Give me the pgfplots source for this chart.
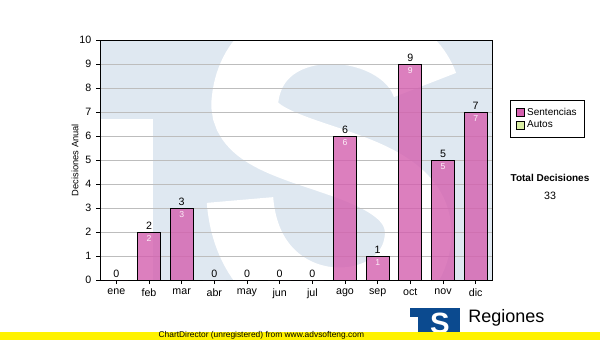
\documentclass[border=0pt]{standalone}
\usepackage{fontspec}
\setmainfont{Liberation Sans}
\usepackage{pgfplots}
\pgfplotsset{compat=1.18}
\definecolor{wmblue}{HTML}{DFE8F1}
\definecolor{barpink}{HTML}{D45FAE}
\definecolor{innerlbl}{HTML}{FCEEF7}
\definecolor{autosc}{HTML}{D9EEA3}
\definecolor{gridgray}{HTML}{BDBDBD}
\definecolor{logoblue}{HTML}{0B4A8F}
\begin{document}
\begin{tikzpicture}
\path[use as bounding box, fill=white] (0,0) rectangle (450pt,255pt);
% watermark behind plot area (decorative logo shape)
\begin{scope}
\clip (75pt,45pt) rectangle (369pt,225pt);
\fill[wmblue] (75pt,45pt) rectangle (369pt,225pt);
\fill[white] (75pt,45pt) rectangle (114.7pt,165.8pt);
\begin{scope}[shift={(0pt,255pt)}, x=0.75pt, y=-0.75pt]
\draw[white, line width=50pt, line cap=butt]
  (425,85) .. controls (400,15) and (255,5) .. (245,100)
  .. controls (236,165) and (425,150) .. (418,238)
  .. controls (410,325) and (250,330) .. (240,200);
\end{scope}
\end{scope}
\begin{axis}[
  at={(75pt,45pt)}, anchor=south west,
  width=294pt, height=180pt, scale only axis,
  xmin=-0.5, xmax=11.5, ymin=0, ymax=10,
  xtick={0,...,11},
  xticklabels={ene,feb,mar,abr,may,jun,jul,ago,sep,oct,nov,dic},
  ytick={0,...,10},
  tick align=outside, xtick pos=bottom, ytick pos=left,
  major tick length=3pt,
  ymajorgrids, grid style={draw=gridgray, line width=0.75pt},
  axis line style={line width=0.75pt},
  every tick/.style={black, line width=0.75pt},
  tick label style={font=\fontsize{8}{9}\selectfont},
  /pgf/number format/assume math mode=true,
  ylabel={Decisiones Anual},
  ylabel style={font=\fontsize{7}{8}\selectfont, at={(axis description cs:-0.064,0.5)}, anchor=center},
  legend image code/.code={\draw[#1, line width=0.5pt] (0pt,-3pt) rectangle (6pt,3pt);},
  legend style={at={(axis description cs:1.046,0.75)}, anchor=north west,
    draw=black, line width=0.75pt, font=\fontsize{7.5}{8.5}\selectfont,
    inner xsep=4pt, inner ysep=3.5pt, row sep=-1pt},
  legend cell align=left,
]
\addlegendimage{fill=barpink, draw=black}
\addlegendentry{Sentencias}
\addlegendimage{fill=autosc, draw=black}
\addlegendentry{Autos}
\addplot[ybar, bar width=0.7, bar shift=0pt, fill=barpink, fill opacity=0.8,
  draw=black, line width=0.75pt, forget plot,
  nodes near coords,
  every node near coord/.append style={font=\fontsize{8}{9}\selectfont, text=black, text opacity=1, inner sep=1.5pt}]
  coordinates {(0,0) (1,2) (2,3) (3,0) (4,0) (5,0) (6,0) (7,6) (8,1) (9,9) (10,5) (11,7)};
\addplot[ybar, bar width=0.7, bar shift=0pt, draw=none, fill=none, forget plot,
  nodes near coords,
  every node near coord/.append style={font=\fontsize{6.5}{7.5}\selectfont, text=innerlbl, anchor=north, inner sep=2.5pt}]
  coordinates {(1,2) (2,3) (7,6) (8,1) (9,9) (10,5) (11,7)};
\end{axis}
\node[font=\fontsize{7.5}{9}\selectfont\bfseries] at (412.5pt,121.5pt) {Total Decisiones};
\node[font=\fontsize{8}{9}\selectfont] at (412.5pt,108pt) {33};
% logo
\begin{scope}
\clip (307.5pt,0pt) rectangle (345pt,24pt);
\fill[logoblue] (307.5pt,0pt) rectangle (345pt,24pt);
\fill[white] (307.5pt,0pt) rectangle (313.5pt,17pt);
\node[white, inner sep=0pt] at (330pt,12.5pt) {\fontsize{22}{22}\selectfont\bfseries S};
\end{scope}
\node[anchor=base west, inner sep=0pt, font=\fontsize{13.5}{14}\selectfont] at (351pt,13.5pt) {Regiones};
\fill[yellow] (0pt,0pt) rectangle (450pt,6pt);
\node[font=\fontsize{6.3}{7}\selectfont, inner sep=0pt] at (196pt,3.2pt) {ChartDirector (unregistered) from www.advsofteng.com};
\end{tikzpicture}
\end{document}
